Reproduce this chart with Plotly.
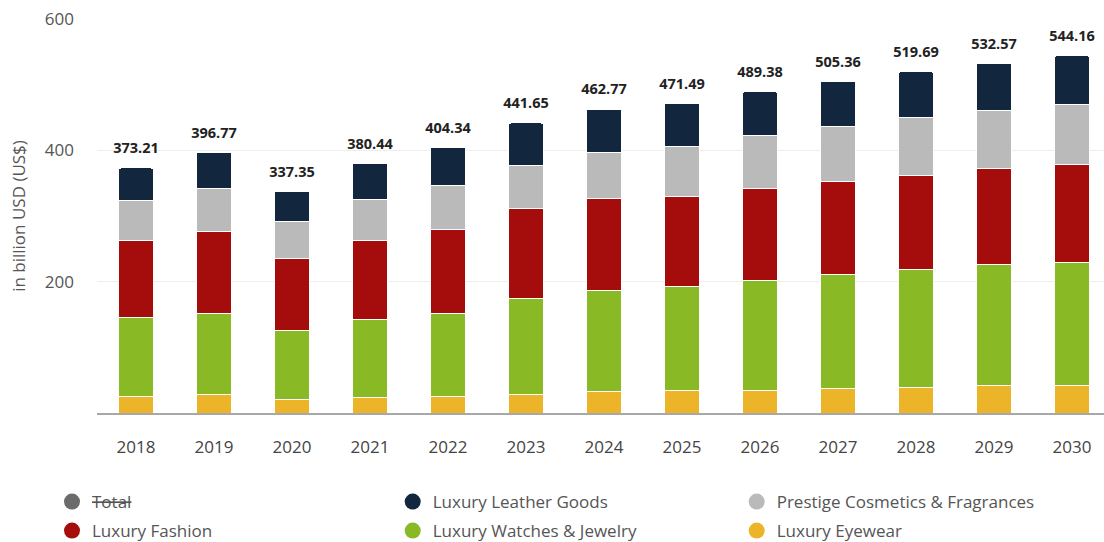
import plotly.graph_objects as go

years = ["2018", "2019", "2020", "2021", "2022", "2023", "2024", "2025", "2026", "2027", "2028", "2029", "2030"]
eyewear = [25.0, 27.5, 21.0, 23.4, 25.0, 27.5, 32.5, 35.0, 34.0, 36.6, 39.0, 41.7, 41.2]
watches = [120.0, 124.5, 104.0, 119.6, 127.0, 147.5, 154.2, 157.0, 168.0, 174.0, 179.0, 184.3, 187.3]
fashion = [118.0, 125.0, 111.0, 120.0, 128.0, 136.0, 139.3, 138.0, 139.5, 142.3, 144.0, 146.0, 150.0]
cosmetics = [61.0, 65.0, 55.0, 62.0, 66.6, 66.0, 71.4, 76.6, 80.5, 84.0, 88.0, 89.0, 91.4]
leather = [49.21, 54.77, 46.35, 55.44, 57.74, 64.65, 65.37, 64.89, 67.38, 68.46, 69.69, 71.57, 74.26]
totals = [373.21, 396.77, 337.35, 380.44, 404.34, 441.65, 462.77, 471.49, 489.38, 505.36, 519.69, 532.57, 544.16]

series = [
    ("Luxury Eyewear", eyewear, "#ebb429"),
    ("Luxury Watches & Jewelry", watches, "#89b925"),
    ("Luxury Fashion", fashion, "#a50c0c"),
    ("Prestige Cosmetics & Fragrances", cosmetics, "#bababa"),
    ("Luxury Leather Goods", leather, "#12263e"),
]

FONT = "Open Sans"

fig = go.Figure()
for name, vals, col in series:
    fig.add_trace(go.Bar(
        x=years, y=vals, name=name, marker=dict(color=col, line=dict(color="white", width=1)),
        width=0.46, showlegend=False, hoverinfo="y+name"))

# total labels above the stacks (invisible marker gives the offset)
fig.add_trace(go.Scatter(
    x=years, y=totals, mode="markers+text", text=[f"<b>{t:.2f}</b>" for t in totals],
    textposition="top center", textfont=dict(family=FONT, size=14.5, color="#222222"),
    marker=dict(size=16, color="rgba(0,0,0,0)"), showlegend=False, hoverinfo="skip",
    cliponaxis=False))

# legend entries (circles): one single-entry legend per slot, 3 columns x 2 rows
legend_items = [
    ("<s>Total</s>", "#6b6b6b"),
    ("Luxury Leather Goods", "#12263e"),
    ("Prestige Cosmetics & Fragrances", "#bababa"),
    ("Luxury Fashion", "#a50c0c"),
    ("Luxury Watches & Jewelry", "#89b925"),
    ("Luxury Eyewear", "#ebb429"),
]
col_x = [52, 392.7, 736.7]
row_y = [502, 531]

legend_layout = {}
for i, (name, col) in enumerate(legend_items):
    key = "legend" if i == 0 else f"legend{i + 1}"
    fig.add_trace(go.Scatter(
        x=[None], y=[None], mode="markers", name=name, legend=key,
        marker=dict(color=col, size=16, symbol="circle"), showlegend=True))
    legend_layout[key] = dict(
        orientation="h", xref="container", yref="container",
        x=col_x[i % 3] / 1104, xanchor="left",
        y=1 - row_y[i // 3] / 542, yanchor="middle",
        font=dict(family=FONT, size=17, color="#555555"), itemclick=False,
        bgcolor="rgba(0,0,0,0)")

fig.update_layout(
    width=1104, height=542,
    barmode="stack", barcornerradius=3,
    paper_bgcolor="white", plot_bgcolor="white",
    margin=dict(l=97, r=0, t=19, b=129, autoexpand=False),
    font=dict(family=FONT, size=17, color="#555"),
    xaxis=dict(type="category", range=[-0.5, 12.41], showgrid=False, showline=True,
               linecolor="#a8a8a8", linewidth=2,
               ticks="", ticklabelstandoff=18, automargin=False,
               tickfont=dict(family=FONT, size=17, color="#444")),
    yaxis=dict(range=[0, 600], tickvals=[200, 400, 600], showgrid=True, gridcolor="#eeeeee",
               zeroline=False, ticks="", ticklabelstandoff=22, automargin=False,
               tickfont=dict(family=FONT, size=17, color="#555"),
               title=dict(text="in billion USD (US$)", font=dict(family=FONT, size=17, color="#555"),
                          standoff=14)),
    **legend_layout,
)

fig.write_html("out.html", config={"displayModeBar": False},
               post_script="document.body.style.margin='0px';")
